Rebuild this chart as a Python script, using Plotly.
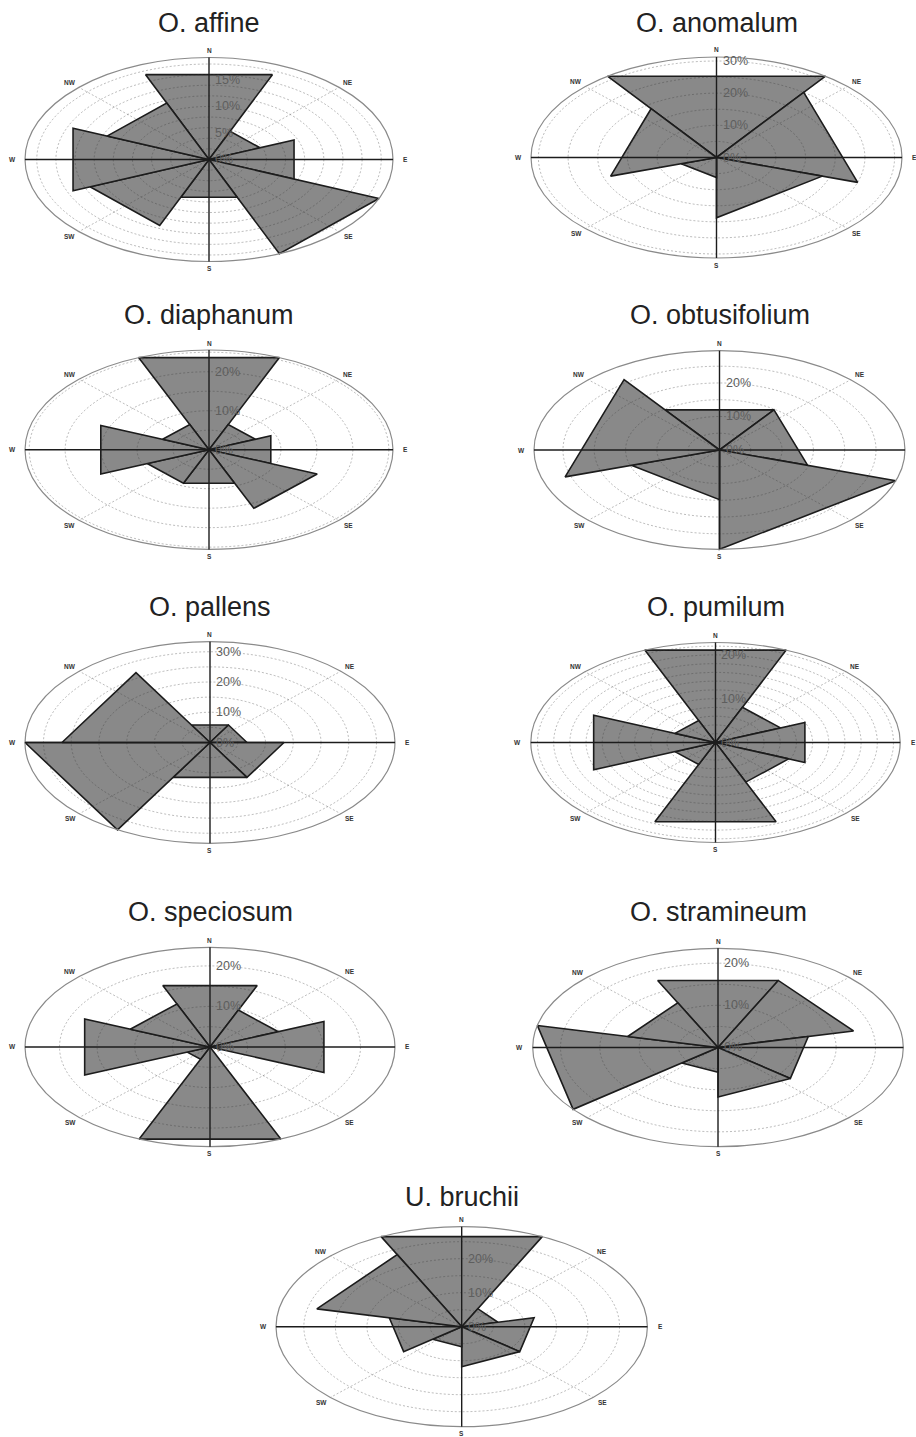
import math
import plotly.graph_objects as go

W, H = 916, 1437

# ---------------- data ----------------
titles = ["O. affine", "O. anomalum", "O. diaphanum", "O. obtusifolium",
          "O. pallens", "O. pumilum", "O. speciosum", "O. stramineum", "U. bruchii"]

# percentage of observations per sector, clockwise from N (sectors evenly spaced)
affine       = [17.31, 5.77, 9.62, 19.23, 7.69, 13.46, 15.38, 11.54]
anomalum     = [31.25, 25.00, 18.75, 6.25, 18.75]
diaphanum    = [25.58, 6.98, 9.30, 16.28, 9.30, 9.30, 16.28, 6.98]
obtusifolium = [14.81, 14.81, 29.63, 14.81, 25.93]
pallens      = [6.67, 6.67, 13.33, 13.33, 33.33, 26.67]
pumilum      = [22.83, 8.70, 11.96, 9.78, 19.57, 5.43, 16.30, 5.43]
speciosum    = [16.39, 9.84, 16.39, 0.00, 24.59, 3.28, 18.03, 11.48]
stramineum   = [17.65, 17.65, 11.76, 11.76, 5.88, 23.53, 11.76]
bruchii      = [29.41, 5.88, 11.76, 11.76, 5.88, 11.76, 23.53]
series = [affine, anomalum, diaphanum, obtusifolium, pallens, pumilum,
          speciosum, stramineum, bruchii]

# grid ring interval (%) of each rose and radial tick labels (%)
ring_step = [2, 5, 5, 5, 5, 2, 5, 5, 5]
tick_vals = [[0, 5, 10, 15], [0, 10, 20, 30], [0, 10, 20], [0, 10, 20],
             [0, 10, 20, 30], [0, 10, 20], [0, 10, 20], [0, 10, 20], [0, 10, 20]]
dir_labels = ["N", "NE", "E", "SE", "S", "SW", "W", "NW"]

# ---------------- layout (pixels) ----------------
# centre x, centre y, half width, half height of each rose, title y
panels = [
    (209.0, 159.5, 184.0, 102.0, 23),
    (716.5, 157.5, 185.5, 100.5, 23),
    (209.0, 449.7, 184.0, 99.7, 315),
    (719.5, 450.0, 185.5, 99.3, 315),
    (210.0, 742.5, 185.0, 100.8, 607),
    (715.5, 742.5, 184.7, 100.0, 607),
    (210.0, 1047.0, 185.0, 99.7, 912),
    (718.0, 1047.5, 185.3, 99.2, 912),
    (461.7, 1326.7, 185.7, 100.0, 1197),
]

FONT = "Liberation Sans, Arial, Helvetica, sans-serif"
FILL = "#898989"
EDGE = "#1c1c1c"
GRID = "rgba(60,60,60,0.34)"
PAD = 1.12

fig = go.Figure()
shapes = []
annotations = []

for i, vals in enumerate(series):
    cx, cy, ax, ay, ty = panels[i]
    M = max(vals)
    sfx = "" if i == 0 else str(i + 1)
    xr, yr = "x" + sfx, "y" + sfx
    L = max(0.0, cx - ax * PAD)
    R = min(W, cx + ax * PAD)
    T = max(0.0, cy - ay * PAD)
    B = min(H, cy + ay * PAD)
    fig.layout["xaxis" + sfx] = dict(
        domain=[L / W, R / W], range=[(L - cx) / ax * M, (R - cx) / ax * M],
        visible=False, fixedrange=True, anchor=yr)
    fig.layout["yaxis" + sfx] = dict(
        domain=[1 - B / H, 1 - T / H], range=[-(B - cy) / ay * M, (cy - T) / ay * M],
        visible=False, fixedrange=True, anchor=xr)

    # wedges
    n = len(vals)
    half = 180.0 / n
    for k, v in enumerate(vals):
        if v <= 0:
            continue
        th = k * 360.0 / n
        a1 = math.radians(th - half)
        a2 = math.radians(th + half)
        fig.add_trace(go.Scatter(
            x=[0, v * math.sin(a1), v * math.sin(a2), 0],
            y=[0, v * math.cos(a1), v * math.cos(a2), 0],
            xaxis=xr, yaxis=yr, mode="lines", fill="toself",
            fillcolor=FILL, line=dict(color=EDGE, width=1.6),
            hoverinfo="skip", showlegend=False))

    # dotted grid rings
    step = ring_step[i]
    r = step
    while r < M - 0.3:
        shapes.append(dict(type="circle", xref=xr, yref=yr, x0=-r, x1=r, y0=-r, y1=r,
                           line=dict(color=GRID, width=1, dash="2px,2px"), layer="above"))
        r += step
    # radial dotted spokes on diagonals
    for d in (45, 135, 225, 315):
        a = math.radians(d)
        shapes.append(dict(type="line", xref=xr, yref=yr, x0=0, y0=0,
                           x1=M * math.sin(a), y1=M * math.cos(a),
                           line=dict(color=GRID, width=1, dash="2px,2px"), layer="above"))
    # outer ring
    shapes.append(dict(type="circle", xref=xr, yref=yr, x0=-M, x1=M, y0=-M, y1=M,
                       line=dict(color="#8a8a8a", width=1.2), layer="above"))
    # axes
    shapes.append(dict(type="line", xref=xr, yref=yr, x0=-M, x1=M, y0=0, y1=0,
                       line=dict(color=EDGE, width=1.4), layer="above"))
    shapes.append(dict(type="line", xref=xr, yref=yr, x0=0, x1=0, y0=-M, y1=M,
                       line=dict(color=EDGE, width=1.4), layer="above"))

    # percentage labels
    for t in tick_vals[i]:
        annotations.append(dict(xref=xr, yref=yr, x=0, y=t, text=f"{t}%",
                                showarrow=False, xanchor="left", yanchor="middle",
                                xshift=4, font=dict(family=FONT, size=12.5, color="#5e5e5e")))
    # compass labels
    for j, lab in enumerate(dir_labels):
        a = math.radians(j * 45)
        rr = 1.07 * M
        annotations.append(dict(xref=xr, yref=yr, x=rr * math.sin(a), y=rr * math.cos(a),
                                text=f"<b>{lab}</b>", showarrow=False,
                                xanchor="center", yanchor="middle",
                                font=dict(family=FONT, size=6.5, color="#333333")))
    # title
    annotations.append(dict(xref="paper", yref="paper", x=cx / W, y=1 - ty / H,
                            text=titles[i], showarrow=False, xanchor="center",
                            yanchor="middle", font=dict(family=FONT, size=27, color="#222222")))

fig.update_layout(width=W, height=H, margin=dict(l=0, r=0, t=0, b=0),
                  paper_bgcolor="white", plot_bgcolor="rgba(0,0,0,0)",
                  shapes=shapes, annotations=annotations, showlegend=False)

fig.write_html("out.html", config={"displayModeBar": False},
               post_script="document.body.style.margin='0px';document.body.style.overflow='hidden';")
